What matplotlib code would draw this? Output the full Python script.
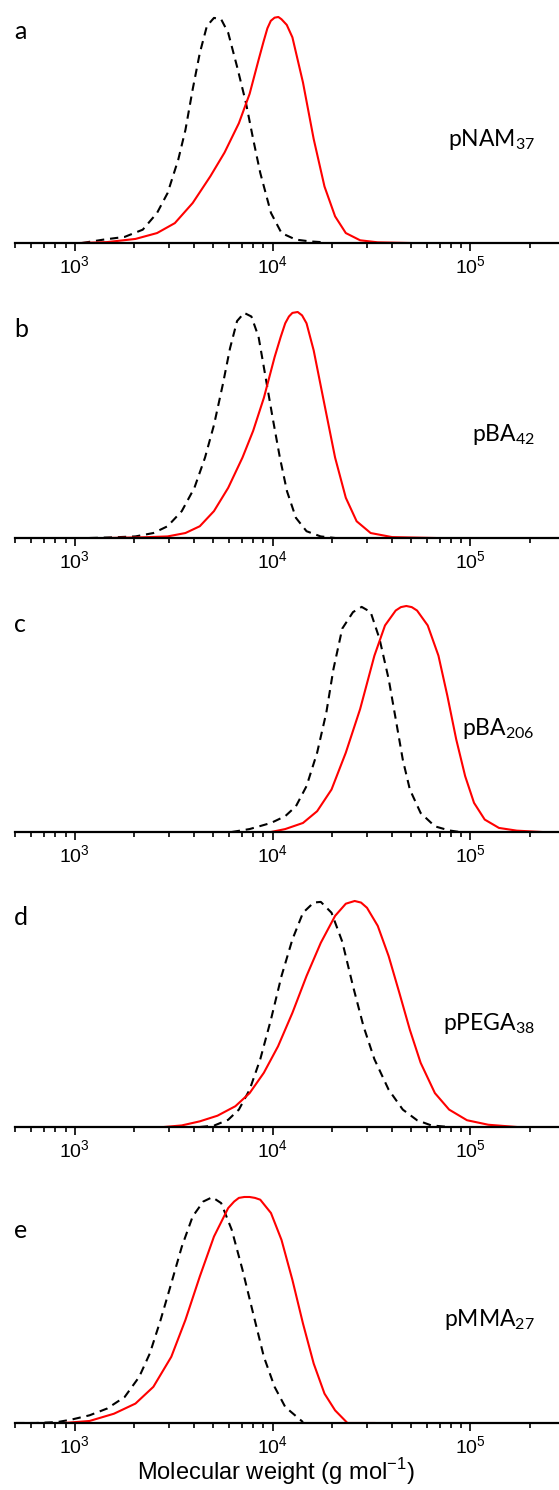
import numpy as np
import matplotlib
matplotlib.use("Agg")
import matplotlib.pyplot as plt
from matplotlib.ticker import LogLocator, NullFormatter, FixedLocator

plt.rcParams["mathtext.fontset"] = "custom"
plt.rcParams["mathtext.rm"] = "Liberation Sans"

# Panel letters and sample names
panel_letters = ["a", "b", "c", "d", "e"]
sample_names = [r"$\mathregular{pNAM_{37}}$", r"$\mathregular{pBA_{42}}$",
                r"$\mathregular{pBA_{206}}$", r"$\mathregular{pPEGA_{38}}$",
                r"$\mathregular{pMMA_{27}}$"]

# a - pNAM37
a_dash_M = [1090, 1400, 1790, 2210, 2610, 2950, 3340, 3630, 3950, 4290, 4660, 5060, 5500,
            5970, 6620, 7340, 7980, 8670, 9820, 11100, 13100, 15500, 18300]
a_dash_y = [0.0, 0.015, 0.027, 0.059, 0.133, 0.221, 0.369, 0.50, 0.68, 0.84, 0.96, 0.996, 0.99,
            0.93, 0.78, 0.62, 0.46, 0.31, 0.133, 0.044, 0.015, 0.007, 0.003]
a_red_M = [1070, 1460, 2030, 2610, 3210, 3950, 4850, 5720, 6760, 7660, 8500, 9000, 9420, 9800,
           10240, 10700, 11100, 11800, 12600, 14250, 16140, 18300, 20700, 23450, 27700, 34000,
           49400]
a_red_y = [0.0, 0.004, 0.018, 0.044, 0.088, 0.177, 0.295, 0.40, 0.53, 0.66, 0.81, 0.89, 0.95, 0.983,
           0.997, 1.0, 0.99, 0.965, 0.91, 0.71, 0.46, 0.25, 0.118, 0.044, 0.012, 0.003, 0.0]

# b - pBA42
b_dash_M = [1190, 1580, 2030, 2500, 2950, 3480, 4030, 4560, 5060, 5610, 6100, 6620, 7190,
            7820, 8500, 9230, 10020, 10890, 11830, 13130, 14850, 17500, 20700]
b_dash_y = [0.0, 0.003, 0.007, 0.022, 0.052, 0.119, 0.222, 0.356, 0.50, 0.68, 0.84, 0.96, 0.996,
            0.98, 0.89, 0.71, 0.53, 0.356, 0.207, 0.089, 0.03, 0.007, 0.0]
b_red_M = [1460, 2210, 2950, 3630, 4290, 5060, 5970, 7050, 7980, 9040, 10240, 11000, 11590,
           12100, 12600, 13400, 14100, 14850, 16140, 18300, 20700, 23450, 26600, 31300, 40200,
           66100]
b_red_y = [0.0, 0.003, 0.007, 0.022, 0.052, 0.119, 0.222, 0.356, 0.474, 0.62, 0.80, 0.89, 0.95,
           0.98, 0.996, 1.0, 0.985, 0.95, 0.83, 0.59, 0.356, 0.178, 0.074, 0.022, 0.004, 0.0]

# c - pBA206
c_dash_M = [6220, 7660, 9820, 11590, 13130, 14850, 16800, 18700, 20300, 22500, 25500, 28200,
            31300, 34700, 38600, 41900, 45500, 49400, 56000, 66100, 78000, 88300]
c_dash_y = [0.0, 0.013, 0.04, 0.07, 0.114, 0.203, 0.351, 0.529, 0.72, 0.90, 0.973, 0.996,
            0.973, 0.855, 0.677, 0.50, 0.32, 0.188, 0.084, 0.025, 0.007, 0.0]
c_red_M = [9820, 11590, 14250, 16800, 19860, 23450, 27700, 32700, 37000, 41900, 44500, 47400,
           50500, 53700, 60800, 68900, 76400, 84700, 94000, 104200, 118000, 139300, 171400,
           229000]
c_red_y = [0.0, 0.013, 0.04, 0.092, 0.188, 0.351, 0.544, 0.78, 0.914, 0.98, 0.995, 1.0,
           0.995, 0.98, 0.914, 0.78, 0.603, 0.41, 0.247, 0.129, 0.055, 0.018, 0.006, 0.0]

# d - pPEGA38
d_dash_M = [4290, 5060, 5970, 6760, 7660, 8670, 9820, 11100, 12600, 14250, 16140, 17530,
            19860, 22500, 25500, 28800, 32700, 38600, 45500, 53700, 63400, 78000]
d_dash_y = [0.0, 0.006, 0.032, 0.077, 0.165, 0.30, 0.476, 0.668, 0.83, 0.948, 0.993, 0.996,
            0.948, 0.82, 0.623, 0.446, 0.30, 0.165, 0.077, 0.03, 0.007, 0.0]
d_red_M = [2830, 3480, 4290, 5270, 6490, 7660, 9040, 10660, 12600, 14850, 17530, 20700, 23450,
           26000, 28000, 30000, 34000, 38600, 43700, 49400, 56000, 66100, 78000, 96000, 123000,
           171400]
d_red_y = [0.0, 0.007, 0.025, 0.05, 0.092, 0.15, 0.24, 0.357, 0.505, 0.668, 0.815, 0.934, 0.988,
           1.0, 0.993, 0.97, 0.89, 0.756, 0.594, 0.43, 0.284, 0.15, 0.077, 0.03, 0.01, 0.0]

# e - pMMA27
e_dash_M = [507, 637, 817, 963, 1190, 1460, 1790, 2120, 2400, 2720, 3080, 3480, 3950, 4470,
            4960, 5500, 6220, 7050, 7980, 9040, 10240, 11590, 14250]
e_dash_y = [0.0, 0.0, 0.004, 0.015, 0.034, 0.064, 0.115, 0.204, 0.308, 0.456, 0.618, 0.78, 0.914,
            0.98, 0.999, 0.973, 0.855, 0.678, 0.485, 0.293, 0.16, 0.071, 0.004]
e_red_M = [887, 1190, 1580, 2030, 2500, 3080, 3630, 4290, 5060, 5970, 6400, 6760, 7200, 7660,
           8150, 8670, 9820, 11100, 12600, 14250, 16140, 18300, 20700, 23900, 32700]
e_red_y = [0.0, 0.009, 0.041, 0.086, 0.16, 0.293, 0.456, 0.648, 0.825, 0.951, 0.98, 0.996, 1.0,
           1.0, 0.996, 0.988, 0.929, 0.81, 0.633, 0.44, 0.263, 0.13, 0.056, 0.0, 0.0]

dash_M = [a_dash_M, b_dash_M, c_dash_M, d_dash_M, e_dash_M]
dash_y = [a_dash_y, b_dash_y, c_dash_y, d_dash_y, e_dash_y]
red_M = [a_red_M, b_red_M, c_red_M, d_red_M, e_red_M]
red_y = [a_red_y, b_red_y, c_red_y, d_red_y, e_red_y]

W, H = 559, 1490
fig = plt.figure(figsize=(W / 100, H / 100), dpi=100)

baselines = [243, 538, 832, 1127, 1423]   # pixel rows of each x axis
letter_up = [204, 201, 200, 202, 185]
ax_left, ax_h = 15, 233
xmin, xmax = 500, 2.8e5

for i in range(5):
    b = baselines[i]
    ax = fig.add_axes([ax_left / W, 1 - b / H, (W - ax_left) / W, ax_h / H])
    ax.plot(dash_M[i], dash_y[i], color="black", lw=1.5, ls=(0, (4, 2.8)))
    ax.plot(red_M[i], red_y[i], color="red", lw=1.5)
    ax.set_xscale("log")
    ax.set_xlim(xmin, xmax)
    ax.set_ylim(0, 1 / 0.97)
    for s in ["top", "left", "right"]:
        ax.spines[s].set_visible(False)
    ax.spines["bottom"].set_linewidth(1.6)
    ax.set_yticks([])
    ax.xaxis.set_major_locator(FixedLocator([1e3, 1e4, 1e5]))
    ax.xaxis.set_minor_locator(LogLocator(base=10, subs=np.arange(2, 10)))
    ax.xaxis.set_minor_formatter(NullFormatter())
    ax.set_xticklabels([r"$\mathregular{10^{3}}$", r"$\mathregular{10^{4}}$",
                        r"$\mathregular{10^{5}}$"], family="Liberation Sans", fontsize=14)
    ax.tick_params(axis="x", which="major", direction="out", length=6, width=1.2, pad=3)
    ax.tick_params(axis="x", which="minor", direction="out", length=3.5, width=1.2)

    fig.text(14 / W, 1 - (b - letter_up[i]) / H, panel_letters[i], family="Lato",
             fontsize=18, ha="left", va="baseline")
    fig.text(535 / W, 1 - (b - 97) / H, sample_names[i], family="Lato",
             fontsize=16.5, ha="right", va="baseline")

fig.text(276 / W, 1 - 1472 / H, r"Molecular weight (g mol$^{\mathregular{-1}}$)",
         family="Liberation Sans", fontsize=17, ha="center", va="center")

fig.savefig("out.png", dpi=100)
